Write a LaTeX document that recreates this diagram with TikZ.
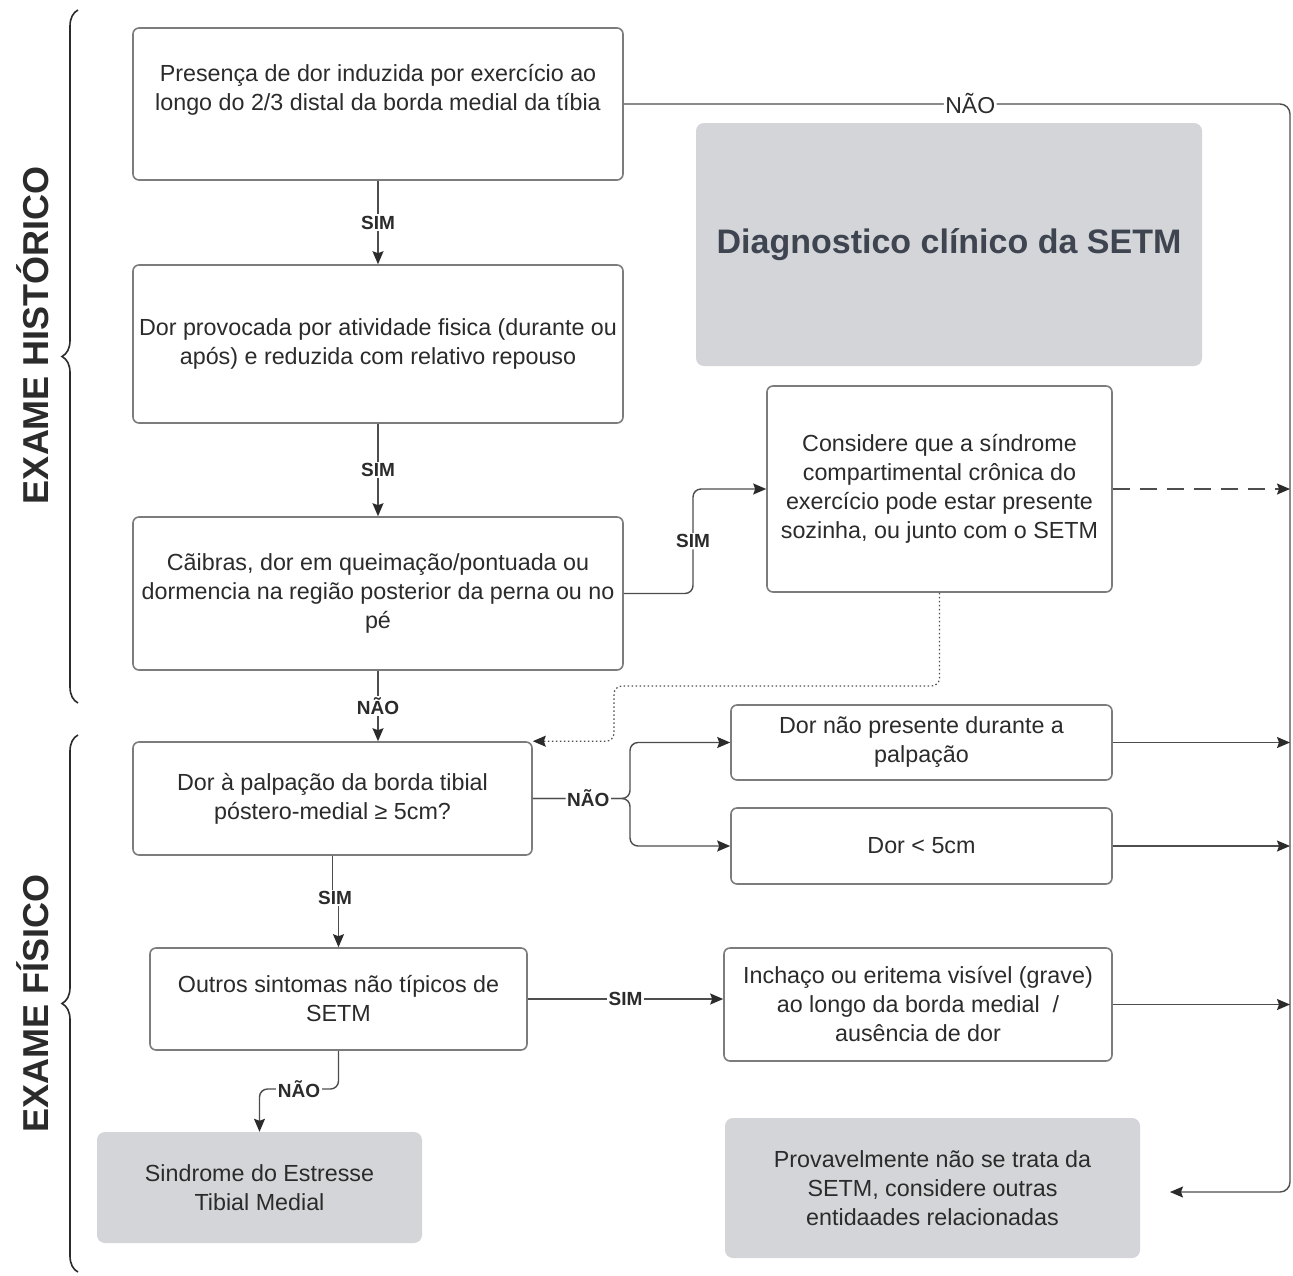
\documentclass[tikz,border=0pt]{standalone}
\usepackage{fontspec}
\setmainfont{Liberation Sans}
\usetikzlibrary{arrows.meta}
\usetikzlibrary{decorations.pathreplacing}
\usetikzlibrary{positioning}
\definecolor{linegray}{HTML}{4D4D4D}
\definecolor{boxgray}{HTML}{7C7C7C}
\definecolor{fillgray}{HTML}{D3D5D8}
\definecolor{txtdark}{HTML}{2B2B2B}
\definecolor{titlegray}{HTML}{3E4551}

\begin{document}
\begin{tikzpicture}
    [
    x=1pt, y=-1pt,
    box/.style = {draw=boxgray, line width=1.6pt, rounded corners=6pt, fill=white, align=center, inner sep=0pt, text=txtdark, font=\fontsize{23.3}{29}\selectfont},
    graybox/.style = {fill=fillgray, rounded corners=8pt, align=center, inner sep=0pt, text=txtdark, font=\fontsize{23.3}{29}\selectfont},
    txt/.style = {align=center, inner sep=0pt, text=txtdark, font=\fontsize{23.3}{29}\selectfont},
    lbl/.style = {fill=white, inner sep=1.5pt, text=txtdark, font=\fontsize{19}{22}\selectfont\bfseries},
    arr/.style = {-{Stealth[length=13pt,width=11pt,inset=2pt,color=txtdark]}, line width=1.4pt, draw=linegray},
    exam/.style = {rotate=90, inner sep=0pt, text=txtdark, font=\fontsize{36}{44}\selectfont\bfseries}
    ]
\fill[white] (0,0) rectangle (1293,1275);
\useasboundingbox (0,0) rectangle (1293,1275);

\node[box, minimum width=490pt, minimum height=152pt] (b1) at (378,104) {};
\node[txt] (b1txt) at (378,89.5) {Presença de dor induzida por exercício ao\\longo do 2/3 distal da borda medial da tíbia};
\node[box, minimum width=490pt, minimum height=158pt] (b2) at (378,344) {Dor provocada por atividade fisica (durante ou\\após) e reduzida com relativo repouso};
\node[box, minimum width=490pt, minimum height=153pt] (b3) at (378,593.5) {Cãibras, dor em queimação/pontuada ou\\dormencia na região posterior da perna ou no\\pé};
\node[box, minimum width=345pt, minimum height=206pt] (b4) at (939.5,489) {Considere que a síndrome\\compartimental crônica do\\exercício pode estar presente\\sozinha, ou junto com o SETM};
\node[graybox, minimum width=506pt, minimum height=243pt, text=titlegray, font=\fontsize{34}{40}\selectfont\bfseries] (diag) at (949,244.5) {Diagnostico clínico da SETM};
\node[box, minimum width=399pt, minimum height=113pt] (b5) at (332.5,798.5) {Dor à palpação da borda tibial\\póstero-medial ≥ 5cm?};
\node[box, minimum width=381pt, minimum height=75pt] (b6) at (921.5,742.5) {Dor não presente durante a\\palpação};
\node[box, minimum width=381pt, minimum height=76pt] (b7) at (921.5,846) {Dor < 5cm};
\node[box, minimum width=377pt, minimum height=102pt] (b8) at (338.5,999) {Outros sintomas não típicos de\\SETM};
\node[box, minimum width=388pt, minimum height=113pt] (b9) at (918,1004.5) {Inchaço ou eritema visível (grave)\\ao longo da borda medial\ \ /\\ausência de dor};
\node[graybox, minimum width=325pt, minimum height=111pt] (sind) at (259.5,1187.5) {Sindrome do Estresse\\Tibial Medial};
\node[graybox, minimum width=415pt, minimum height=140pt] (prov) at (932.5,1188) {Provavelmente não se trata da\\SETM, considere outras\\entidaades relacionadas};

\coordinate (rx) at (1290,0);
\coordinate (pvin) at (1170,1192);
\coordinate (jx) at (693,0);
\coordinate (fk) at (630,798.5);
\coordinate (d1) at (614,686);
\coordinate (m2) at (299,1089);

\draw[arr] (b1.south) -- node[lbl] (lsim1) {SIM} (b2.north);
\draw[arr] (b2.south) -- node[lbl] (lsim2) {SIM} (b3.north);
\draw[arr] (b3.south) -- node[lbl] (lnao2) {NÃO} (b3.south |- b5.north);
\draw[arr, rounded corners=8pt] (b3.east) -- (b3.east -| jx) -- node[lbl] (lsim3) {SIM} (b4.west -| jx) -- (b4.west);
\draw[arr, rounded corners=10pt] (b1.east) -- node[lbl, font=\fontsize{23}{28}\selectfont, pos=0.52] (lnao1) {NÃO} (b1.east -| rx) -- (rx |- pvin) -- (pvin);
\draw[arr, dash pattern=on 17pt off 10pt] (b4.east) -- (b4.east -| rx);
\draw[arr, line width=1.2pt, dash pattern=on 1.5pt off 2.5pt, rounded corners=8pt] (b4.south) |- (d1) |- (b5.north east);
\draw[arr, rounded corners=8pt] (b5.east) -- (fk) |- (b7.west);
\draw[arr, rounded corners=8pt] (b5.east) -- node[lbl, pos=0.57] (lnao3) {NÃO} (fk) |- (b6.west);
\draw[arr] (b6.east) -- (b6.east -| rx);
\draw[arr] (b7.east) -- (b7.east -| rx);
\draw[arr] (b9.east) -- (b9.east -| rx);
\draw[arr] (b5.south) |- node[lbl, pos=1] (lsim4) {SIM} (335,898) -| (b8.north);
\draw[arr] (b8.east) -- node[lbl] (lsim5) {SIM} (b8.east -| b9.west);
\draw[arr, rounded corners=8pt] (b8.south) |- (m2) -| (sind.north);
\node[lbl] (lnao4) at (m2) {NÃO};

\draw[decorate, decoration={brace, amplitude=16pt}, line width=1.6pt, draw=txtdark] (78,703) -- (78,10);
\draw[decorate, decoration={brace, amplitude=16pt}, line width=1.6pt, draw=txtdark] (78,1272) -- (78,735);
\node[exam] (hist) at (33,335) {EXAME HISTÓRICO};
\node[exam] (fis) at (33,1003) {EXAME FÍSICO};
\end{tikzpicture}
\end{document}
